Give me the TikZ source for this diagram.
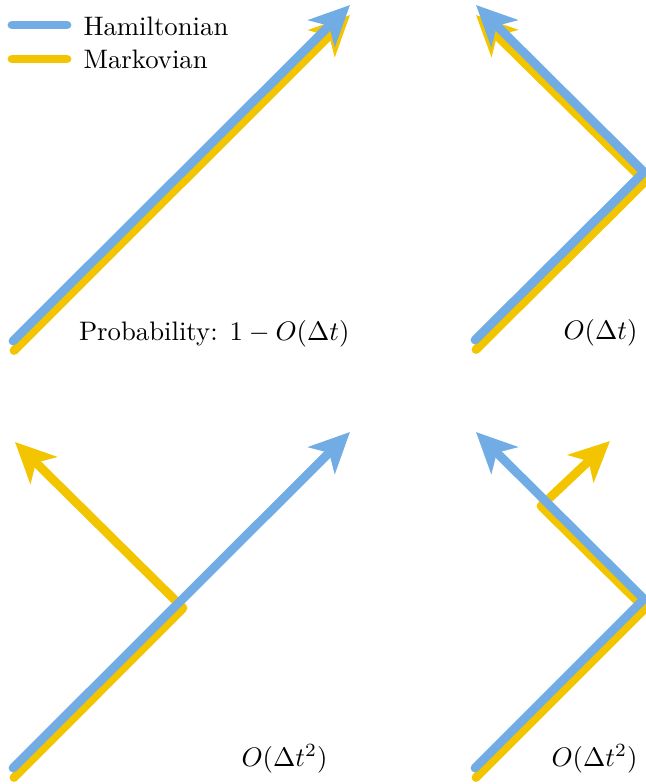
\documentclass[tikz,border=0pt]{standalone}
\usepackage{amsmath}
\usetikzlibrary{arrows.meta}
\definecolor{cham}{HTML}{72ACE4}
\definecolor{cmark}{HTML}{F2C500}
\tikzset{
  traj/.style={line width=3.3pt, line cap=round, line join=round},
  ham/.style={traj, draw=cham},
  markov/.style={traj, draw=cmark},
  arr/.style={-{Stealth[length=15pt, width=14pt, inset=4pt]}},
  prob/.style={anchor=base east, inner sep=0pt},
  leg/.style={anchor=base west, inner sep=0pt},
}
\begin{document}
\begin{tikzpicture}[x=0.374pt, y=-0.374pt]
  \useasboundingbox (0,0) rectangle (646,784);
  % legend
  \coordinate (lha) at (12,25);  \coordinate (lhb) at (67,25);
  \coordinate (lma) at (12,59);  \coordinate (lmb) at (67,59);
  \node[leg] (lh) at (83,35) {Hamiltonian};
  \node[leg] (lm) at (83,68) {Markovian};
  \draw[ham] (lha) -- (lhb);
  \draw[markov] (lma) -- (lmb);
  % top left: no jump
  \coordinate (h1a) at (13,341);  \coordinate (h1b) at (350,5);
  \coordinate (m1a) at (14,350.5); \coordinate (m1b) at (350,15);
  % top right: jump in both
  \coordinate (h2a) at (475,340); \coordinate (h2c) at (644,172); \coordinate (h2b) at (476,5);
  \coordinate (m2a) at (476,349.5); \coordinate (m2c) at (645,181.5); \coordinate (m2b) at (476,15);
  % bottom left: Markovian jumps only
  \coordinate (h3a) at (13,768);  \coordinate (h3b) at (350,432);
  \coordinate (m3a) at (14,777.5); \coordinate (m3c) at (183,608); \coordinate (m3b) at (15,442);
  % bottom right: Markovian jumps twice
  \coordinate (h4a) at (475,768); \coordinate (h4c) at (644,599); \coordinate (h4b) at (476,432);
  \coordinate (m4a) at (476,777.5); \coordinate (m4c) at (645,608.5);
  \coordinate (m4d) at (541,506); \coordinate (m4b) at (610,441);
  % Markovian first, Hamiltonian on top
  \draw[markov, arr] (m1a) -- (m1b);
  \draw[markov, arr] (m2a) -- (m2c) -- (m2b);
  \draw[markov, arr] (m3a) -- (m3c) -- (m3b);
  \draw[markov, arr] (m4a) -- (m4c) -- (m4d) -- (m4b);
  \draw[ham, arr] (h1a) -- (h1b);
  \draw[ham, arr] (h2a) -- (h2c) -- (h2b);
  \draw[ham, arr] (h3a) -- (h3b);
  \draw[ham, arr] (h4a) -- (h4c) -- (h4b);
  % probabilities
  \node[prob] (p1) at (350,340) {Probability: $1-O(\Delta t)$};
  \node[prob] (p2) at (638,339) {$O(\Delta t)$};
  \node[prob] (p3) at (328,766) {$O(\Delta t^2)$};
  \node[prob] (p4) at (638,766) {$O(\Delta t^2)$};
\end{tikzpicture}
\end{document}
